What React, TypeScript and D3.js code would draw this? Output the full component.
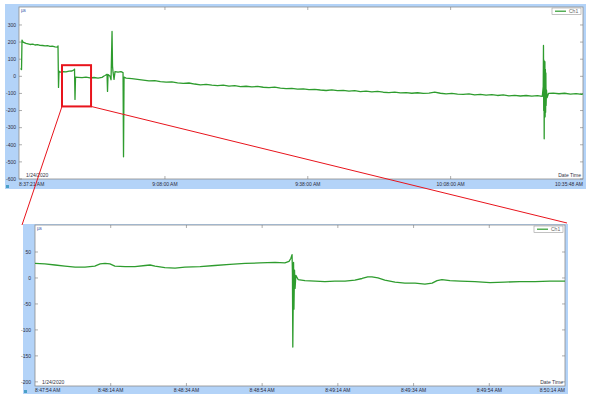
import React from "react";
import * as d3 from "d3";

// ---------- DATA ----------
const topStart = new Date(2020, 0, 24, 8, 37, 21);
const topEnd = new Date(2020, 0, 24, 10, 35, 48);
const topTickTimes = ["9:08:00", "9:38:00", "10:08:00"];
const topYTicks = [300, 200, 100, 0, -100, -200, -300, -400, -500, -600];

// minutes after 8:37:21
const topMinutes = [
  0.32, 0.53, 0.63, 0.84, 1.47, 2.31, 2.9, 3.36, 3.9, 4.41, 5.0, 5.46, 6.0, 6.51, 7.0, 7.56, 8.09, 8.19, 8.3, 8.4,
  8.61, 9.24, 9.87, 10.5, 11.13, 11.55, 11.66, 11.76, 11.87, 12.39, 13.24, 14.08, 14.92, 15.76, 16.6, 17.44, 17.86,
  18.07, 18.49, 18.59, 18.7, 19.12, 19.33, 19.54, 19.64, 19.75, 19.96, 20.17, 20.8, 21.43, 21.85, 21.95, 22.06,
  22.5, 23.7, 24.9, 26.1, 27.3, 28.5, 29.7, 30.9, 32.1, 33.3, 34.5, 35.7, 36.9, 38.1, 39.3, 40.5, 41.7, 42.9,
  44.1, 45.3, 46.5, 47.7, 48.9, 50.1, 51.3, 52.5, 53.7, 54.9, 56.1, 57.3, 58.5, 59.7, 60.9, 62.1, 63.3, 64.5,
  65.7, 66.9, 68.1, 69.3, 70.5, 71.7, 72.9, 74.1, 75.3, 76.5, 77.7, 78.9, 80.1, 81.3, 82.5, 83.7, 84.9, 86.1,
  87.3, 88.5, 89.7, 90.9, 92.1, 93.3, 94.5, 95.7, 96.9, 98.1, 99.3, 100.5, 101.7, 102.9, 104.1, 105.3, 106.5,
  107.7, 108.9, 109.9, 110.1, 110.15, 110.2, 110.25, 110.3, 110.35, 110.4, 110.45, 110.5, 110.55, 110.6, 110.65,
  110.7, 110.78, 110.9, 111.2, 112.2, 113.4, 114.6, 115.8, 117.0, 118.2, 118.45,
];
const topValues = [
  45, 40, 212, 200, 192, 186, 188, 183, 185, 181, 180, 178, 179, 175, 176, 172, 170, 178, -65, 30,
  24, 27, 26, 30, 31, 38, 42, -135, -5, -6, -8, -5, -9, -7, -10, -6, 2,
  5, 12, -88, 10, 0, -20, 262, 60, 24, -18, 28, 24, 27, 22, -470, -5,
  -10, -14, -18, -22, -27, -25, -31, -34, -32, -38, -41, -39, -45, -50, -47, -52, -55, -51,
  -57, -55, -60, -58, -62, -59, -64, -66, -63, -69, -72, -70, -75, -73, -78, -76, -80, -83,
  -79, -84, -82, -86, -84, -89, -87, -91, -88, -93, -95, -92, -97, -95, -99, -96, -100, -98,
  -92, -99, -103, -100, -104, -106, -103, -108, -105, -110, -107, -112, -109, -114, -111, -115, -112,
  -116, -113, -117, -60, 180, -200, 95, -365, 60, -240, 85, -235, 40, -210, 20,
  -170, -80, -125, -100, -98, -102, -99, -104, -101, -105, -103,
];

const botStart = new Date(2020, 0, 24, 8, 47, 54);
const botEnd = new Date(2020, 0, 24, 8, 50, 14);
const botTickTimes = ["8:48:14", "8:48:34", "8:48:54", "8:49:14", "8:49:34", "8:49:54"];
const botYTicks = [50, 0, -50, -100, -150, -200];

// seconds after 8:47:54
const botSeconds = [
  0, 2.6, 5.3, 7.9, 10.6, 13.2, 15.8, 17.2, 18.5, 19.8, 21.1, 23.8, 26.4, 29.1, 30.4, 31.7, 34.3, 37.0, 39.6,
  43.6, 47.5, 51.5, 55.5, 59.4, 63.4, 66.0, 67.1, 67.6, 67.9, 68.0, 68.1, 68.3, 68.4, 68.55, 68.7, 68.9, 69.5,
  71.3, 74.0, 76.6, 79.2, 81.9, 84.5, 86.4, 87.9, 89.0, 90.6, 92.4, 95.1, 97.7, 100.4, 103.0, 104.9, 106.2,
  107.5, 109.6, 112.3, 116.2, 120.2, 124.1, 128.1, 132.1, 136.0, 140.0,
];
const botValues = [
  28, 27, 25, 23, 21, 21, 23, 27, 28, 27, 23, 22, 22, 24, 25, 23, 20, 19, 21,
  22, 24, 26, 28, 29, 30, 29, 32, 38, 45, 10, -133, 30, -60, 15, -20, 5, -3,
  -5, -6, -7, -6, -6, -4, -1, 2, 2, 0, -4, -8, -10, -10, -12, -10, -5,
  -3, -5, -6, -7, -9, -8, -7, -7, -6, -6,
];

// zoom annotation (minutes after topStart, values)
const zoomBoxMinutes = [9.03, 15.13];
const zoomBoxValues = [65, -176];

const seriesName = "Ch1";
const dateLabel = "1/24/2020";
const unitLabel = "µs";
const xTitle = "Date Time";

// ---------- LAYOUT ----------
const W = 593;
const H = 399;
const BLUE = "#b3d3f8";
const GREEN = "#2e9c2e";
const RED = "#e8141c";
const TXT = "#2b2b3b";
const FONT = "Liberation Sans, Arial, sans-serif";

const fmt = d3.timeFormat("%-I:%M:%S %p");
const parseT = (s: string) => {
  const [h, m, sec] = s.split(":").map(Number);
  return new Date(2020, 0, 24, h, m, sec);
};

type PanelProps = {
  panel: { x: number; y: number; w: number; h: number };
  plot: { l: number; t: number; r: number; b: number };
  x: d3.ScaleTime<number, number>;
  y: d3.ScaleLinear<number, number>;
  xTicks: Date[];
  yTicks: number[];
  dates: Date[];
  values: number[];
  labelRight: number;
};

function Panel({ panel, plot, x, y, xTicks, yTicks, dates, values, labelRight }: PanelProps) {
  const line = d3
    .line<number>()
    .x((_, i) => x(dates[i]))
    .y((v) => y(v))
    .curve(d3.curveLinear);
  const [d0, d1] = x.domain();
  const axisY = plot.b + (panel.y + panel.h - plot.b) / 2 + 1.8;
  return (
    <g>
      <rect x={panel.x} y={panel.y} width={panel.w} height={panel.h} fill={BLUE} />
      <rect x={plot.l} y={plot.t} width={plot.r - plot.l} height={plot.b - plot.t} fill="#fff" stroke="#8c8c8c" strokeWidth={0.8} />
      {yTicks.map((v) => (
        <g key={v}>
          <line x1={plot.l} x2={plot.l + 3} y1={y(v)} y2={y(v)} stroke="#777" strokeWidth={0.6} />
          <line x1={plot.r - 3} x2={plot.r} y1={y(v)} y2={y(v)} stroke="#777" strokeWidth={0.6} />
          <text x={labelRight} y={y(v) + 1.8} fontSize={5} textAnchor="end" fill={TXT} fontFamily={FONT}>
            {v}
          </text>
        </g>
      ))}
      {xTicks.map((t, i) => (
        <g key={i}>
          <line x1={x(t)} x2={x(t)} y1={plot.t} y2={plot.t + 3} stroke="#777" strokeWidth={0.6} />
          <line x1={x(t)} x2={x(t)} y1={plot.b - 3} y2={plot.b} stroke="#777" strokeWidth={0.6} />
          <text x={x(t)} y={axisY} fontSize={5} textAnchor="middle" fill={TXT} fontFamily={FONT}>
            {fmt(t)}
          </text>
        </g>
      ))}
      <text x={plot.l} y={axisY} fontSize={5} textAnchor="start" fill={TXT} fontFamily={FONT}>
        {fmt(d0)}
      </text>
      <text x={plot.r} y={axisY} fontSize={5} textAnchor="end" fill={TXT} fontFamily={FONT}>
        {fmt(d1)}
      </text>
      <text x={plot.l + 7} y={plot.b - 2} fontSize={5} fill="#334" fontFamily={FONT}>
        {dateLabel}
      </text>
      <text x={plot.r - 2} y={plot.b - 2} fontSize={5} textAnchor="end" fill="#334" fontFamily={FONT}>
        {xTitle}
      </text>
      <text x={plot.l + 2} y={plot.t + 5} fontSize={4.5} fill="#3355aa" fontFamily={FONT}>
        {unitLabel}
      </text>
      <g>
        <rect x={plot.r - 31} y={plot.t + 1} width={29} height={6.5} fill="#fff" stroke="#999" strokeWidth={0.6} />
        <line x1={plot.r - 28} x2={plot.r - 17} y1={plot.t + 4.2} y2={plot.t + 4.2} stroke={GREEN} strokeWidth={1.2} />
        <text x={plot.r - 14} y={plot.t + 6} fontSize={5} fill="#666" fontFamily={FONT}>
          {seriesName}
        </text>
      </g>
      <defs>
        <clipPath id={`clip-${panel.y}`}>
          <rect x={plot.l} y={plot.t} width={plot.r - plot.l} height={plot.b - plot.t} />
        </clipPath>
      </defs>
      <path d={line(values) || ""} fill="none" stroke={GREEN} strokeWidth={1.3} strokeLinejoin="round" clipPath={`url(#clip-${panel.y})`} />
      <rect x={panel.x + 1} y={panel.y + panel.h - 4} width={3} height={3} fill="#4aa0c8" />
    </g>
  );
}

export default function App() {
  const topPanel = { x: 5, y: 4, w: 581, h: 185 };
  const topPlot = { l: 19, t: 7, r: 583, b: 179 };
  const botPanel = { x: 23, y: 224, w: 545, h: 170 };
  const botPlot = { l: 35, t: 225, r: 565, b: 386 };

  const xTop = d3.scaleTime().domain([topStart, topEnd]).range([topPlot.l, topPlot.r]);
  const yTop = d3.scaleLinear().domain([-600, 405]).range([topPlot.b, topPlot.t]);
  const xBot = d3.scaleTime().domain([botStart, botEnd]).range([botPlot.l, botPlot.r]);
  const yBot = d3.scaleLinear().domain([-208, 102]).range([botPlot.b, botPlot.t]);

  const topDates = topMinutes.map((m) => new Date(topStart.getTime() + m * 60000));
  const botDates = botSeconds.map((s) => new Date(botStart.getTime() + s * 1000));

  const bx0 = xTop(new Date(topStart.getTime() + zoomBoxMinutes[0] * 60000));
  const bx1 = xTop(new Date(topStart.getTime() + zoomBoxMinutes[1] * 60000));
  const by0 = yTop(zoomBoxValues[0]);
  const by1 = yTop(zoomBoxValues[1]);

  return (
    <svg width={W} height={H} style={{ position: "absolute", left: 0, top: 0, background: "#fff" }}>
      <Panel
        panel={topPanel}
        plot={topPlot}
        x={xTop}
        y={yTop}
        xTicks={topTickTimes.map(parseT)}
        yTicks={topYTicks}
        dates={topDates}
        values={topValues}
        labelRight={16}
      />
      <Panel
        panel={botPanel}
        plot={botPlot}
        x={xBot}
        y={yBot}
        xTicks={botTickTimes.map(parseT)}
        yTicks={botYTicks}
        dates={botDates}
        values={botValues}
        labelRight={31}
      />
      <line x1={bx0} y1={by1} x2={botPanel.x - 1} y2={botPanel.y + 1} stroke={RED} strokeWidth={1} />
      <line x1={bx1} y1={by1} x2={botPanel.x + botPanel.w - 1} y2={botPanel.y - 1} stroke={RED} strokeWidth={1} />
      <rect x={bx0} y={by0} width={bx1 - bx0} height={by1 - by0} fill="none" stroke={RED} strokeWidth={2} />
    </svg>
  );
}
